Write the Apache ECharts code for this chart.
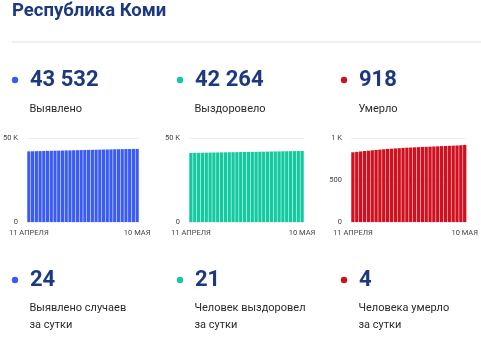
<!DOCTYPE html>
<html>
<head>
<meta charset="utf-8">
<script src="https://cdn.jsdelivr.net/npm/echarts@6/dist/echarts.min.js"></script>
<style>
  html, body { margin: 0; padding: 0; background: #fff; }
  #chart { width: 481px; height: 337px; }
</style>
</head>
<body>
<div id="chart"></div>
<script>
// Daily cumulative figures, 11 April – 10 May
const dates = [
  '11 апреля','12 апреля','13 апреля','14 апреля','15 апреля','16 апреля','17 апреля','18 апреля',
  '19 апреля','20 апреля','21 апреля','22 апреля','23 апреля','24 апреля','25 апреля','26 апреля',
  '27 апреля','28 апреля','29 апреля','30 апреля','1 мая','2 мая','3 мая','4 мая','5 мая',
  '6 мая','7 мая','8 мая','9 мая','10 мая'
];
const detected = [
  42055,42110,42165,42220,42275,42330,42382,42436,42490,42545,
  42598,42650,42705,42758,42810,42865,42918,42970,43025,43078,
  43130,43180,43232,43285,43330,43380,43425,43470,43508,43532
];
const recovered = [
  41110,41150,41192,41232,41272,41312,41350,41390,41430,41470,
  41510,41550,41592,41630,41670,41712,41752,41790,41832,41873,
  41915,41955,41995,42035,42078,42120,42160,42200,42243,42264
];
const deaths = [
  830,835,840,845,849,854,858,862,866,870,
  873,876,879,882,885,887,889,891,893,895,
  897,899,901,903,905,907,909,911,914,918
];
const totals = ['43 532', '42 264', '918'];
const totalLabels = ['Выявлено', 'Выздоровело', 'Умерло'];
const dailyValues = ['24', '21', '4'];
const dailyLabels = [['Выявлено случаев', 'за сутки'], ['Человек выздоровел', 'за сутки'], ['Человека умерло', 'за сутки']];
const colors = ['#3a5cf5', '#12c9a0', '#d0101e'];
const yMax = [50000, 50000, 1000];
const yStep = [50000, 50000, 500];

const FONT = 'Roboto, "Noto Sans", sans-serif';
const NAVY = '#1c3880';

const chart = echarts.init(document.getElementById('chart'), null, { renderer: 'canvas' });

// column geometry
const colX = [15, 180, 344];
const grids = [
  { left: 24, width: 115 },
  { left: 189, width: 115 },
  { left: 351, width: 116 }
];

const graphic = [
  { type: 'text', left: 12, top: 2, style: { text: 'Республика Коми', font: 'bold 18.5px ' + FONT, fill: NAVY } },
  { type: 'rect', shape: { x: 12, y: 41.5, width: 469, height: 1 }, style: { fill: '#e4e4e4' } }
];
colX.forEach((x, i) => {
  graphic.push(
    { type: 'circle', shape: { cx: x, cy: 80, r: 3.2 }, style: { fill: colors[i] } },
    { type: 'text', x: x + 15, y: 80, style: { text: totals[i], font: 'bold 22px ' + FONT, fill: NAVY, verticalAlign: 'middle' } },
    { type: 'text', x: x + 14.5, y: 109, style: { text: totalLabels[i], font: '11px ' + FONT, fill: '#2a2a2a', verticalAlign: 'middle' } },
    { type: 'circle', shape: { cx: x, cy: 280, r: 3.2 }, style: { fill: colors[i] } },
    { type: 'text', x: x + 15, y: 280, style: { text: dailyValues[i], font: 'bold 22px ' + FONT, fill: NAVY, verticalAlign: 'middle' } },
    { type: 'text', x: x + 14.5, y: 308, style: { text: dailyLabels[i][0], font: '11px ' + FONT, fill: '#2a2a2a', verticalAlign: 'middle' } },
    { type: 'text', x: x + 14.5, y: 325, style: { text: dailyLabels[i][1], font: '11px ' + FONT, fill: '#2a2a2a', verticalAlign: 'middle' } }
  );
});

const seriesData = [detected, recovered, deaths];
const fmtY = v => v === 0 ? '0' : (v >= 1000 ? (v / 1000) + ' K' : String(v));

const option = {
  animation: false,
  textStyle: { fontFamily: FONT },
  graphic: graphic,
  grid: grids.map(g => ({ left: g.left, width: g.width, top: 138, height: 84 })),
  xAxis: grids.map((g, i) => ({
    type: 'category', gridIndex: i, data: dates,
    axisLine: { show: false }, axisTick: { show: false },
    axisLabel: {
      interval: 0, margin: 7, fontSize: 7.5, color: '#444',
      formatter: (v, idx) => (idx === 0 || idx === dates.length - 1) ? v.toUpperCase() : ''
    }
  })),
  yAxis: grids.map((g, i) => ({
    type: 'value', gridIndex: i, min: 0, max: yMax[i], interval: yStep[i],
    axisLine: { show: false }, axisTick: { show: false },
    axisLabel: { fontSize: 7.5, color: '#444', margin: 9, formatter: fmtY },
    splitLine: { lineStyle: { color: '#eeeeee', width: 1 } }
  })),
  series: seriesData.map((d, i) => ({
    type: 'bar', xAxisIndex: i, yAxisIndex: i, data: d,
    barCategoryGap: '14%',
    itemStyle: { color: colors[i] }
  }))
};
chart.setOption(option);
</script>
</body>
</html>
